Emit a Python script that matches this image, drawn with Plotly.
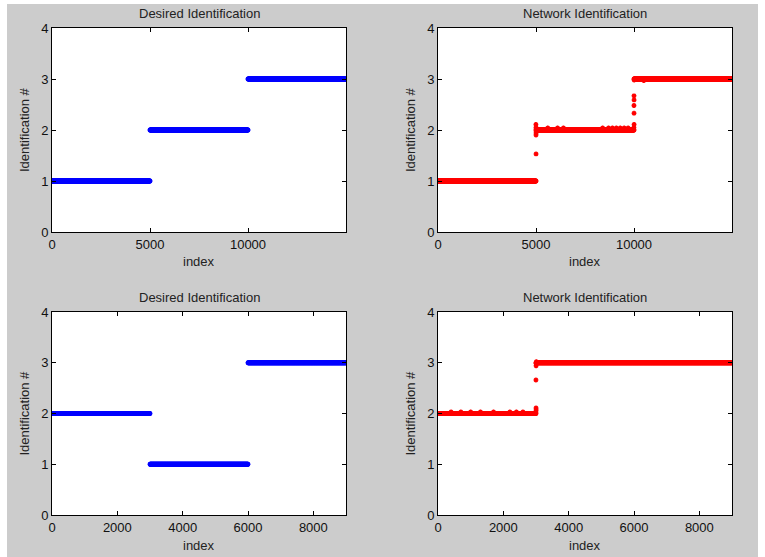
import numpy as np
import plotly.graph_objects as go

W, H = 765, 557

# ---- data -------------------------------------------------------------
# Experiment A (15000 samples): desired class per segment
a_breaks = [0, 5000, 10000, 15000]
a_desired = [1, 2, 3]
a_network = [1, 2, 3]
# network output deviating from the plateau values
a_out_x = [4995, 5000, 5005, 5000, 5002, 5010, 5015,
           10000, 10003, 9998, 10001, 10004, 9996, 10008, 10020,
           5600, 6100, 6400, 8400, 8700, 8900, 9100, 9300, 9500, 9700, 10500]
a_out_y = [2.11, 2.05, 1.94, 1.90, 1.53, 1.97, 2.03,
           2.67, 2.59, 2.48, 2.33, 2.11, 2.05, 2.98, 3.00,
           2.04, 2.04, 2.04, 2.04, 2.04, 2.04, 2.04, 2.04, 2.04, 2.04, 2.97]

# Experiment B (9000 samples)
b_breaks = [0, 3000, 6000, 9000]
b_desired = [2, 1, 3]
b_net_breaks = [0, 3000, 9000]
b_network = [2, 3]
b_out_x = [3000, 3003, 2998, 3001, 3004, 2996, 3010,
           400, 700, 1000, 1300, 1700, 2200, 2400, 2600]
b_out_y = [2.99, 2.94, 2.66, 2.11, 2.07, 2.03, 3.02,
           2.03, 2.03, 2.03, 2.03, 2.03, 2.03, 2.03, 2.03]

A_TICKS = [0, 5000, 10000]
B_TICKS = [0, 2000, 4000, 6000, 8000]
Y_TICKS = [0, 1, 2, 3, 4]

STEP = 10  # sample spacing used when drawing each plateau


def plateau(breaks, levels):
    xs, ys = [], []
    for i, lv in enumerate(levels):
        seg = np.arange(breaks[i], breaks[i + 1] + 1, STEP)
        xs.append(seg)
        ys.append(np.full(seg.shape, lv, dtype=float))
    return np.concatenate(xs), np.concatenate(ys)


FONT = "Liberation Sans, Arial, sans-serif"
BLUE = "#0000ff"
RED = "#ff0000"

# panel boxes in pixels: (left, right, top, bottom)
boxes = [
    (52, 346, 28, 232),
    (438, 732, 28, 232),
    (52, 346, 312, 515),
    (438, 732, 312, 515),
]

fig = go.Figure()

panels = [
    (plateau(a_breaks, a_desired), None, BLUE, [0, 15000], A_TICKS, "Desired Identification"),
    (plateau(a_breaks, a_network), (a_out_x, a_out_y), RED, [0, 15000], A_TICKS, "Network Identification"),
    (plateau(b_breaks, b_desired), None, BLUE, [0, 9000], B_TICKS, "Desired Identification"),
    (plateau(b_net_breaks, b_network), (b_out_x, b_out_y), RED, [0, 9000], B_TICKS, "Network Identification"),
]

annotations = []
for k, ((px, py), extra, col, xr, xt, title) in enumerate(panels):
    n = "" if k == 0 else str(k + 1)
    if extra is not None:
        px = np.concatenate([px, np.array(extra[0], dtype=float)])
        py = np.concatenate([py, np.array(extra[1], dtype=float)])
    fig.add_trace(go.Scatter(
        x=px, y=py, mode="markers", xaxis="x" + n, yaxis="y" + n,
        marker=dict(symbol="asterisk-open", size=4, color=col,
                    line=dict(color=col, width=1.5)),
        showlegend=False, hoverinfo="skip", cliponaxis=True,
    ))
    l, r, t, b = boxes[k]
    axis_common = dict(showline=True, linecolor="black", linewidth=1, mirror="ticks",
                       ticks="inside", ticklen=4, tickcolor="black", showgrid=False,
                       zeroline=False, automargin=False,
                       tickfont=dict(family=FONT, size=13, color="#111111"))
    fig.update_layout(**{
        "xaxis" + n: dict(domain=[l / W, r / W], range=xr, tickvals=xt,
                          ticktext=[str(v) for v in xt],
                          anchor="y" + n, **axis_common),
        "yaxis" + n: dict(domain=[1 - b / H, 1 - t / H], range=[0, 4], tickvals=Y_TICKS,
                          ticktext=[str(v) for v in Y_TICKS],
                          anchor="x" + n, **axis_common),
    })
    cx = (l + r) / 2 / W
    annotations.append(dict(text=title, x=cx, y=1 - (t - 15) / H, xref="paper", yref="paper",
                            showarrow=False, xanchor="center", yanchor="middle",
                            font=dict(family=FONT, size=13, color="#222222")))
    annotations.append(dict(text="index", x=cx, y=1 - (b + 30) / H, xref="paper", yref="paper",
                            showarrow=False, xanchor="center", yanchor="middle",
                            font=dict(family=FONT, size=13, color="#222222")))
    annotations.append(dict(text="Identification #", x=(l - 28) / W, y=1 - (t + b) / 2 / H,
                            xref="paper", yref="paper", textangle=-90,
                            showarrow=False, xanchor="center", yanchor="middle",
                            font=dict(family=FONT, size=13, color="#222222")))

fig.update_layout(
    width=W, height=H,
    margin=dict(l=0, r=0, t=0, b=0, autoexpand=False),
    paper_bgcolor="#cccccc",
    plot_bgcolor="white",
    annotations=annotations,
    shapes=[
        dict(type="rect", xref="paper", yref="paper", x0=0, x1=7 / W, y0=0, y1=1,
             fillcolor="white", line=dict(width=0), layer="below"),
        dict(type="rect", xref="paper", yref="paper", x0=0, x1=1, y0=1 - 4 / H, y1=1,
             fillcolor="white", line=dict(width=0), layer="below"),
        dict(type="rect", xref="paper", yref="paper", x0=758 / W, x1=1, y0=0, y1=1,
             fillcolor="white", line=dict(width=0), layer="below"),
    ],
)

fig.write_html("out.html")
